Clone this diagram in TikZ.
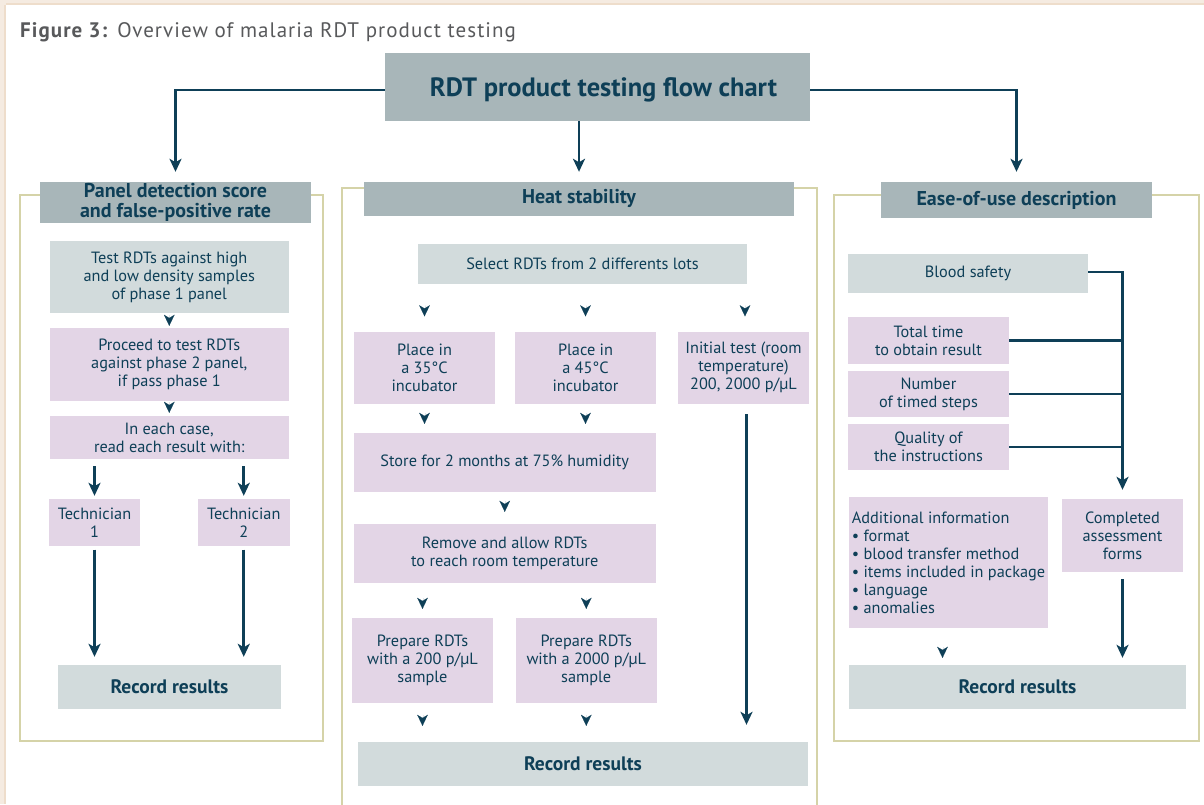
\documentclass[tikz,border=0pt]{standalone}
\usepackage{fontspec}
\setmainfont{PT Sans}
\usetikzlibrary{arrows.meta}

\definecolor{ink}{HTML}{0E3F57}
\definecolor{hdrfill}{HTML}{A8B6B9}
\definecolor{greyfill}{HTML}{D2DBDC}
\definecolor{lilacfill}{HTML}{E3D5E6}
\definecolor{framecol}{HTML}{D5D3A8}
\definecolor{cream}{HTML}{F5EBE1}
\definecolor{creamline}{HTML}{EEDDCB}
\definecolor{captiongrey}{HTML}{58595B}

\begin{document}
\begin{tikzpicture}[x=1pt,y=-1pt,
  every node/.style={text=ink, inner sep=0pt, align=center,
    font=\fontsize{16.3}{18}\selectfont},
  hdr/.style={fill=hdrfill, font=\bfseries\fontsize{20}{20}\selectfont},
  greybox/.style={fill=greyfill},
  lilacbox/.style={fill=lilacfill},
  recbox/.style={fill=greyfill, font=\bfseries\fontsize{19.5}{20}\selectfont},
  panel/.style={draw=framecol, line width=1.3pt},
  arr/.style={draw=ink, line width=2.6pt,
    -{Stealth[length=13pt,width=12pt,inset=3.5pt]}},
  link/.style={draw=ink, line width=2.6pt},
  tipd/.style 2 args={draw=ink, line width=0.01pt,
    -{Stealth[length=11pt,width=10.5pt,inset=3.2pt]},
    shorten <=#1, shorten >=#2}
]
% page and margins
\useasboundingbox (0,0) rectangle (1204,804);
\fill[white] (0,0) rectangle (1204,804);
\fill[cream] (0,0) rectangle (1204,5);
\fill[cream] (0,0) rectangle (6,804);
\draw[creamline, line width=1.2pt] (6,4) -- (1204,4);
\draw[creamline, line width=1.2pt] (5,5) -- (5,804);

% caption
\node[anchor=base west, text=captiongrey,
  font=\fontsize{21}{24}\selectfont\addfontfeature{LetterSpace=5}]
  (caption) at (20,37) {\textbf{Figure 3:} Overview of malaria RDT product testing};

% panel frames
\begin{scope}
  \clip (0,0) rectangle (1204,804);
  \draw[panel] (20,195) rectangle (323,741);
  \draw[panel] (342,188) rectangle (817,820);
  \draw[panel] (834,195) rectangle (1199,741);
\end{scope}

% main title
\node[fill=hdrfill, minimum width=425, minimum height=68,
  text height=19pt, text depth=0pt,
  font=\bfseries\fontsize{26.5}{30}\selectfont] (title) at (597.5,87)
  {\hspace*{12pt}RDT product testing flow chart};

% section headers
\node[hdr, minimum width=271, minimum height=40.5] (hL) at (175.5,202.25)
  {Panel detection score\\and false-positive rate};
\node[hdr, minimum width=430, minimum height=33.5] (hM) at (579,198.75)
  {Heat stability};
\node[hdr, minimum width=271, minimum height=36] (hR) at (1016.5,200)
  {Ease-of-use description};

% left column
\node[greybox, minimum width=238.5, minimum height=72] (a1) at (169.25,277)
  {Test RDTs against high\\and low density samples\\of phase 1 panel};
\node[lilacbox, minimum width=238.5, minimum height=72.5] (a2) at (169.25,364.25)
  {Proceed to test RDTs\\against phase 2 panel,\\if pass phase 1};
\node[lilacbox, minimum width=238.5, minimum height=43] (a3) at (169.25,437.5)
  {In each case,\\read each result with:};
\node[lilacbox, minimum width=91, minimum height=46.5] (t1) at (94.5,522.25)
  {Technician\\1};
\node[lilacbox, minimum width=91.5, minimum height=46.5] (t2) at (243.75,522.25)
  {Technician\\2};
\node[recbox, minimum width=223, minimum height=44] (recL) at (169.5,687)
  {Record results};

% middle column
\node[greybox, minimum width=329, minimum height=40] (sel) at (582.5,264)
  {Select RDTs from 2 differents lots};
\node[lilacbox, minimum width=141, minimum height=72.5] (p35) at (424.5,367.75)
  {Place in\\a 35°C\\incubator};
\node[lilacbox, minimum width=141, minimum height=72.5] (p45) at (585.5,367.75)
  {Place in\\a 45°C\\incubator};
\node[lilacbox, minimum width=131, minimum height=72.5] (init) at (743.5,367.75)
  {Initial test (room\\temperature)\\200, 2000 p/µL};
\node[lilacbox, minimum width=301.5, minimum height=58.5] (store) at (504.75,462.25)
  {Store for 2 months at 75\% humidity};
\node[lilacbox, minimum width=301.5, minimum height=59] (remove) at (504.75,553.5)
  {Remove and allow RDTs\\to reach room temperature};
\node[lilacbox, minimum width=141, minimum height=85] (pr2) at (422.5,660.5)
  {Prepare RDTs\\with a 200 p/µL\\sample};
\node[lilacbox, minimum width=140.5, minimum height=85] (pr3) at (586.25,660.5)
  {Prepare RDTs\\with a 2000 p/µL\\sample};
\node[recbox, minimum width=450, minimum height=44] (recM) at (583,764)
  {Record results};

% right column
\node[greybox, minimum width=240, minimum height=39] (blood) at (968,273.5)
  {Blood safety};
\node[lilacbox, minimum width=161, minimum height=47] (tt) at (928.5,340.5)
  {Total time\\to obtain result};
\node[lilacbox, minimum width=161, minimum height=46] (num) at (928.5,394)
  {Number\\of timed steps};
\node[lilacbox, minimum width=161, minimum height=46] (qual) at (928.5,447)
  {Quality of\\the instructions};
\node[lilacbox, minimum width=199, minimum height=131, align=left] (add) at (948.5,562.5)
  {Additional information\\
   • format\\
   • blood transfer method\\
   • items included in package\\
   • language\\
   • anomalies};
\node[lilacbox, minimum width=121, minimum height=73] (comp) at (1122.5,535.5)
  {Completed\\assessment\\forms};
\node[recbox, minimum width=337, minimum height=44] (recR) at (1017.5,687)
  {Record results};

% connectors from the title
\draw[arr, shorten >=10pt] ([yshift=-3pt]title.west) -| (hL.north);
\draw[arr, shorten >=10pt] (title.south -| hM.north) -- (hM.north);
\draw[arr, shorten >=10pt] ([yshift=-3pt]title.east) -| (hR.north);

% left column flow
\draw[tipd={2pt}{2pt}] (a1.south) -- (a2.north);
\draw[tipd={1.5pt}{3pt}] (a2.south) -- (a3.north);
\draw[arr, shorten <=7pt, shorten >=3pt] (a3.south -| t1.north) -- (t1.north);
\draw[arr, shorten <=7pt, shorten >=3pt] (a3.south -| t2.north) -- (t2.north);
\draw[arr, shorten <=4pt, shorten >=8pt] (t1.south) -- (t1.south |- recL.north);
\draw[arr, shorten <=4pt, shorten >=8pt] (t2.south) -- (t2.south |- recL.north);

% middle column flow
\draw[tipd={21.5pt}{15pt}] (sel.south -| p35.north) -- (p35.north);
\draw[tipd={21.5pt}{15pt}] (sel.south -| p45.north) -- (p45.north);
\draw[tipd={21.5pt}{15pt}] ([xshift=1.5pt]sel.south -| init.north) -- ([xshift=1.5pt]init.north);
\draw[tipd={9pt}{9pt}] (p35.south) -- (p35.south |- store.north);
\draw[tipd={9pt}{9pt}] (p45.south) -- (p45.south |- store.north);
\draw[tipd={9.5pt}{12pt}] (store.south) -- (remove.north);
\draw[tipd={15pt}{9pt}] (remove.south -| pr2.north) -- (pr2.north);
\draw[tipd={15pt}{9pt}] (remove.south -| pr3.north) -- (pr3.north);
\draw[tipd={12pt}{16pt}] (pr2.south) -- (pr2.south |- recM.north);
\draw[tipd={12pt}{16pt}] (pr3.south) -- (pr3.south |- recM.north);
\draw[arr, shorten <=10pt, shorten >=17pt] ([xshift=3pt]init.south) -- ([xshift=3pt]init.south |- recM.north);

% right column flow
\draw[arr, shorten >=9pt] ([yshift=1.5pt]blood.east) -| (comp.north);
\draw[link] (tt.east) -- (tt.east -| comp.north);
\draw[link] (num.east) -- (num.east -| comp.north);
\draw[link] (qual.east) -- (qual.east -| comp.north);
\draw[arr, shorten <=7pt, shorten >=7pt] (comp.south) -- (comp.south |- recR.north);
\draw[tipd={19pt}{7pt}] ([xshift=-6pt]add.south) -- ([xshift=-6pt]add.south |- recR.north);
\end{tikzpicture}
\end{document}
